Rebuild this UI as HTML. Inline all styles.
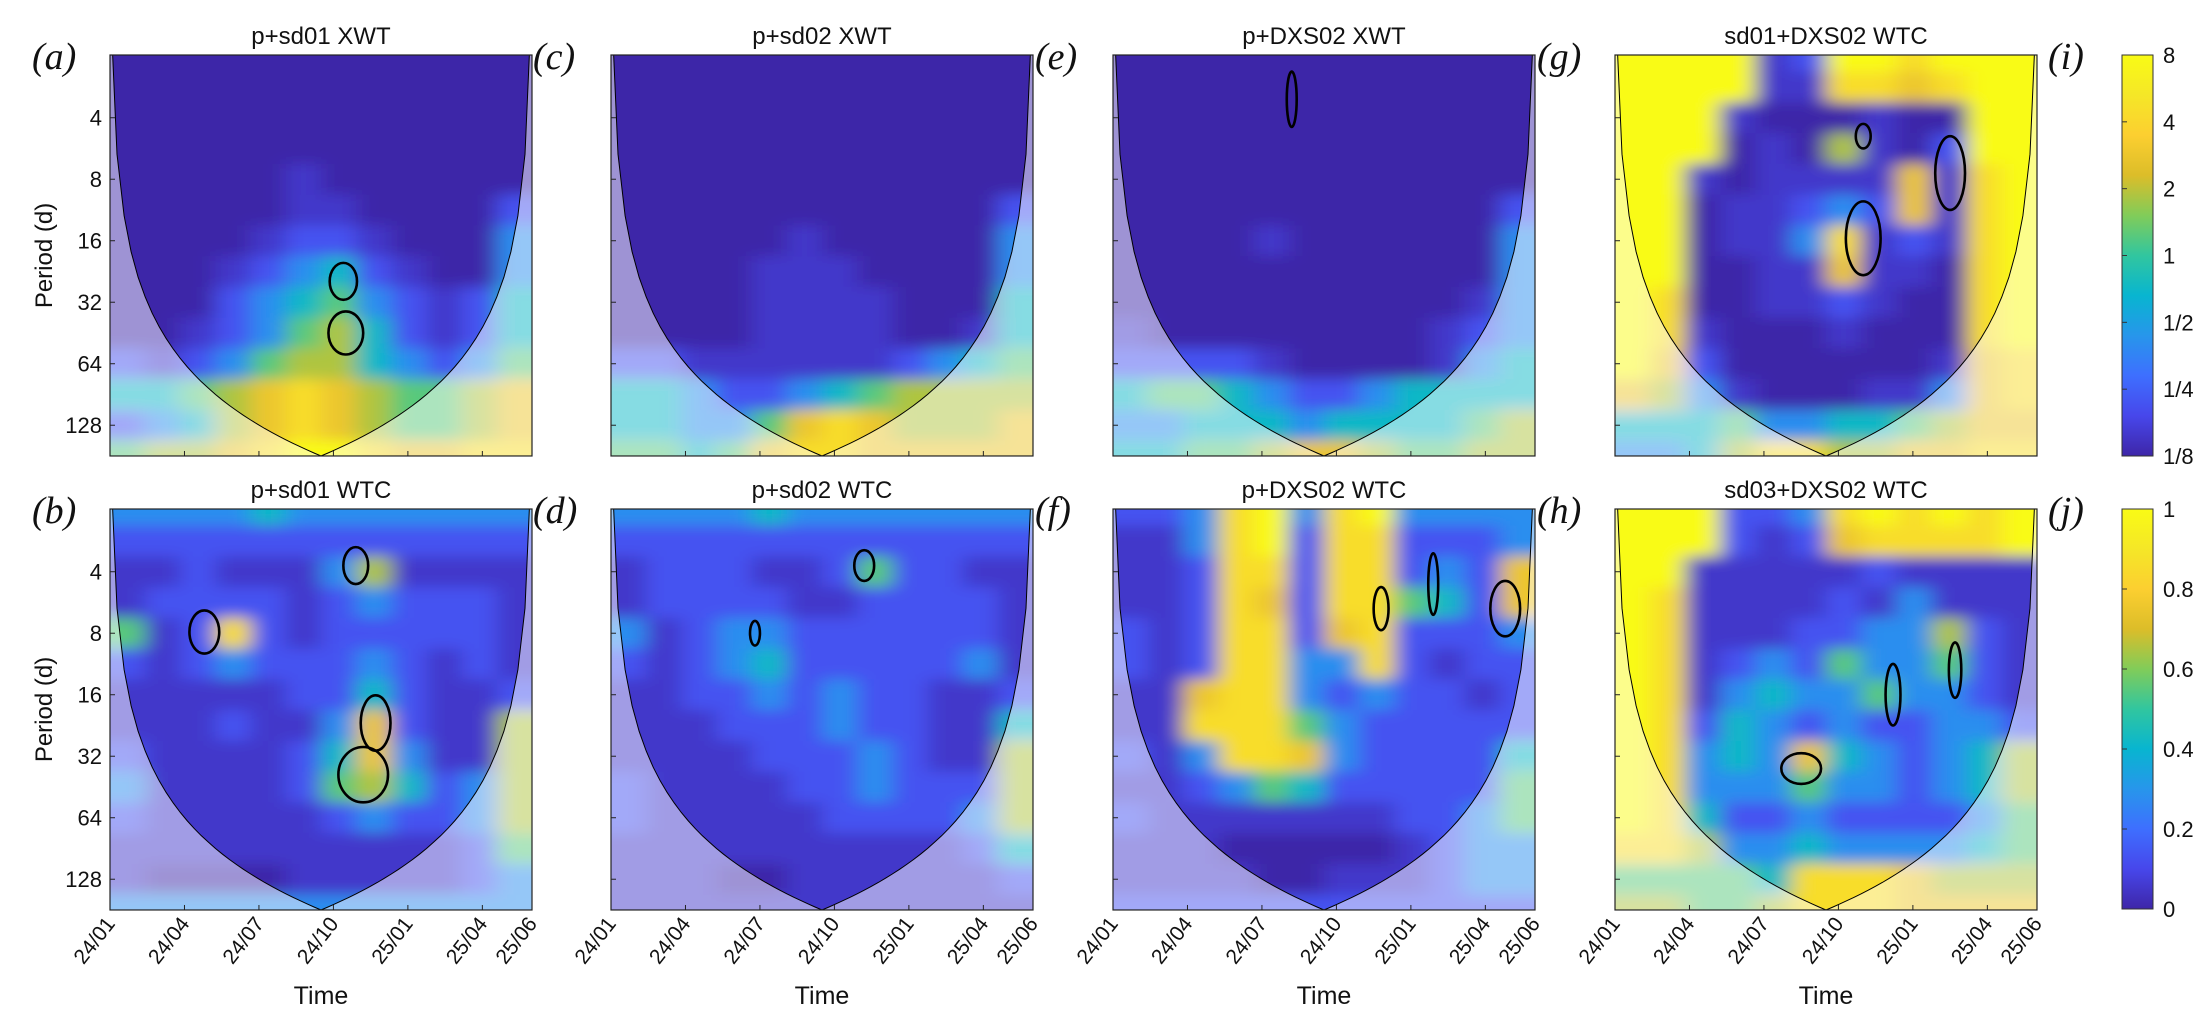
<!DOCTYPE html>
<html><head><meta charset="utf-8"><style>
html,body{margin:0;padding:0;background:#fff;}
svg{display:block;font-family:"Liberation Sans",sans-serif;}
</style></head><body>
<svg id="fig" width="2204" height="1017" viewBox="0 0 2204 1017" xmlns="http://www.w3.org/2000/svg">
<defs>
<filter id="blur" x="-5%" y="-5%" width="110%" height="110%"><feGaussianBlur stdDeviation="11 7"/></filter>
<linearGradient id="cbgrad" x1="0" y1="1" x2="0" y2="0">
<stop offset="0" stop-color="rgb(62,38,168)"/><stop offset="0.1" stop-color="rgb(71,71,235)"/>
<stop offset="0.2" stop-color="rgb(62,111,255)"/><stop offset="0.3" stop-color="rgb(39,150,235)"/>
<stop offset="0.4" stop-color="rgb(8,181,208)"/><stop offset="0.5" stop-color="rgb(49,198,159)"/>
<stop offset="0.6" stop-color="rgb(129,204,89)"/><stop offset="0.7" stop-color="rgb(220,189,41)"/>
<stop offset="0.8" stop-color="rgb(252,207,48)"/><stop offset="0.9" stop-color="rgb(245,231,39)"/>
<stop offset="1" stop-color="rgb(249,251,21)"/>
</linearGradient>
</defs>
</svg>
<script>
// ---- data (grid rows: log2 period 1.0 .. 7.5 step 0.5; columns: 12 time bins 24/01..25/06) ----
const timeTicks = ["24/01","24/04","24/07","24/10","25/01","25/04","25/06"];
const tickMonths = [0,3,6,9,12,15,17];
const periodTicks = [4,8,16,32,64,128];
const cbTopLabels = ["8","4","2","1","1/2","1/4","1/8"];
const cbBottomLabels = ["1","0.8","0.6","0.4","0.2","0"];
const titles = ["p+sd01 XWT","p+sd02 XWT","p+DXS02 XWT","sd01+DXS02 WTC","p+sd01 WTC","p+sd02 WTC","p+DXS02 WTC","sd03+DXS02 WTC"];
const letters = ["(a)","(c)","(e)","(g)","(b)","(d)","(f)","(h)"];
// level (0..9) to colour-scale fraction
const levelScale = [0,0.05,0.13,0.28,0.42,0.55,0.65,0.75,0.86,1.0];

const gridA = [
[0,0,0,0,0,0,0,0,0,0,0,0],[0,0,0,0,0,0,0,0,0,0,0,0],[0,0,0,0,0,0,0,0,0,0,0,0],[0,0,0,0,0,0,0,0,0,0,0,0],
[0,0,0,0,0,1,0,0,0,0,0,0],[0,0,0,0,0,1,1,0,0,0,0,2],[0,0,0,0,1,2,2,1,0,0,0,3],[0,0,0,1,2,3,4,2,1,0,0,3],
[0,0,0,2,3,4,5,3,2,1,2,4],[0,0,1,2,3,5,6,4,2,1,2,4],[2,1,2,3,5,6,6,4,3,2,3,5],[4,4,5,6,7,8,7,6,5,5,6,7],
[2,3,4,6,7,8,7,6,5,5,6,7],[5,6,6,7,8,9,9,8,7,7,8,8]];
const gridC = [
[0,0,0,0,0,0,0,0,0,0,0,0],[0,0,0,0,0,0,0,0,0,0,0,0],[0,0,0,0,0,0,0,0,0,0,0,0],[0,0,0,0,0,0,0,0,0,0,0,0],
[0,0,0,0,0,0,0,0,0,0,0,0],[0,0,0,0,0,0,0,0,0,0,0,2],[0,0,0,0,0,1,0,0,0,0,0,3],[0,0,0,0,1,1,1,0,0,0,0,3],
[0,0,0,0,1,1,1,1,0,0,0,4],[0,0,0,0,1,1,1,1,0,0,1,4],[2,2,1,1,1,1,1,1,2,3,4,5],[4,4,3,2,2,3,4,5,6,6,6,6],
[4,4,3,3,5,7,8,7,6,6,6,7],[5,5,4,5,7,8,8,7,7,7,7,7]];
const gridE = [
[0,0,0,0,0,0,0,0,0,0,0,0],[0,0,0,0,0,0,0,0,0,0,0,0],[0,0,0,0,0,0,0,0,0,0,0,0],[0,0,0,0,0,0,0,0,0,0,0,0],
[0,0,0,0,0,0,0,0,0,0,0,0],[0,0,0,0,0,0,0,0,0,0,0,2],[0,0,0,0,1,0,0,0,0,0,0,3],[0,0,0,0,0,0,0,0,0,0,0,3],
[0,0,0,0,0,0,0,0,0,0,1,3],[1,0,0,0,0,0,0,0,0,1,2,3],[2,2,2,2,1,0,0,0,0,1,3,4],[4,5,5,4,3,2,2,3,4,4,4,4],
[3,3,4,4,4,3,4,4,4,4,5,6],[4,4,5,5,6,7,7,6,5,5,6,6]];
const gridG = [
[9,9,9,9,1,2,9,9,8,9,9,9],[9,9,9,9,1,1,8,8,7,8,9,9],[9,9,9,1,0,0,0,1,0,0,9,9],[9,9,9,0,1,0,6,1,0,2,9,9],
[9,9,1,0,1,1,1,1,7,1,8,9],[9,9,0,1,1,2,3,2,7,1,8,9],[9,9,0,1,1,3,8,1,2,1,8,9],[9,9,0,0,1,1,7,1,1,0,8,9],
[9,8,0,0,1,1,2,1,0,0,8,9],[9,8,1,0,0,0,1,0,0,0,8,9],[9,7,2,0,0,0,0,0,0,1,7,8],[7,6,3,1,0,0,0,1,1,3,7,8],
[4,4,4,5,3,3,4,4,5,6,7,7],[3,3,4,6,8,8,6,6,7,7,8,8]];
const gridB = [
[3,3,3,3,4,3,3,3,3,3,3,3],[2,2,2,2,2,2,2,2,2,2,2,2],[1,1,2,1,1,1,3,6,1,1,1,1],[1,2,2,2,2,1,2,3,2,2,2,1],
[5,1,2,8,2,1,2,2,2,2,2,1],[2,1,2,3,2,2,2,3,2,1,2,1],[1,1,1,1,1,2,2,4,2,1,1,2],[1,1,1,2,1,1,3,7,2,1,1,6],
[2,1,1,1,1,2,4,7,3,1,1,6],[3,1,1,1,1,2,5,6,4,2,3,6],[2,1,1,1,1,1,2,3,2,2,3,6],[1,1,1,1,1,1,1,1,1,1,2,5],
[1,0,0,0,0,1,1,1,1,1,2,3],[3,3,3,3,3,3,3,3,3,3,3,3]];
const gridD = [
[3,3,3,3,4,3,3,3,3,3,3,3],[2,2,2,2,2,2,2,2,2,2,2,2],[1,2,2,2,1,1,2,5,2,2,1,1],[1,2,2,2,2,1,1,2,2,2,2,1],
[3,1,2,3,3,2,2,2,2,2,2,1],[2,1,2,3,4,2,2,2,2,2,3,1],[1,1,2,2,3,2,3,2,2,1,1,2],[1,1,1,2,2,2,3,2,2,1,1,4],
[1,1,1,1,2,2,2,3,2,1,1,6],[2,1,1,1,1,2,2,3,2,2,2,6],[2,1,1,1,1,1,2,2,2,2,3,6],[1,1,1,1,1,1,1,1,1,1,2,4],
[1,1,1,0,0,1,1,1,1,1,1,2],[1,1,1,1,1,1,1,1,1,1,1,1]];
const gridF = [
[2,2,3,8,9,3,8,9,3,3,3,3],[1,1,3,8,9,2,8,8,2,2,2,3],[1,1,2,8,8,2,8,8,2,3,2,7],[1,1,2,8,7,2,8,8,5,4,2,7],
[2,1,2,8,8,2,7,8,2,2,2,3],[2,1,2,8,8,3,3,8,2,1,2,2],[1,1,7,8,8,3,2,3,2,2,1,2],[1,1,8,8,8,5,3,2,2,2,2,2],
[2,1,3,8,8,7,3,2,2,2,2,4],[1,1,2,3,5,4,2,2,2,2,2,5],[2,1,1,1,1,1,1,1,2,2,3,5],[1,1,1,0,0,0,0,0,1,2,3,3],
[1,1,1,1,0,0,1,1,1,2,3,3],[2,2,2,2,2,2,2,2,2,2,2,2]];
const gridH = [
[9,9,9,2,2,3,8,9,8,9,8,9],[9,9,9,2,1,2,7,8,8,8,8,9],[9,9,1,1,1,1,1,2,1,1,1,1],[9,8,1,1,1,1,2,1,3,1,1,1],
[9,8,1,1,1,2,2,3,3,6,2,1],[9,8,1,2,3,2,5,3,3,5,2,1],[9,8,1,3,4,3,3,5,3,3,2,1],[9,8,2,4,3,2,3,2,2,3,3,2],
[9,8,3,4,3,7,4,3,2,3,4,6],[9,8,3,3,3,5,3,3,2,3,4,6],[9,8,4,2,2,3,2,2,2,2,3,5],[8,8,6,3,3,4,3,3,3,3,4,5],
[5,5,5,5,4,8,8,8,7,6,6,6],[6,6,5,5,6,8,8,8,7,7,7,7]];
const grids = [gridA,gridC,gridE,gridG,gridB,gridD,gridF,gridH];

// significance contours: [month, log2 period, radius months, radius log2]
const contoursA = [[9.4,4.66,0.55,0.3],[9.5,5.5,0.7,0.35]];
const contoursC = [];
const contoursE = [[7.2,1.7,0.2,0.45]];
const contoursG = [[10.0,3.96,0.7,0.6],[13.5,2.9,0.6,0.6],[10.0,2.3,0.3,0.2]];
const contoursB = [[3.8,2.98,0.6,0.35],[9.9,1.9,0.5,0.3],[10.7,4.46,0.6,0.45],[10.2,5.3,1.0,0.45]];
const contoursD = [[10.2,1.9,0.4,0.25],[5.8,3.0,0.2,0.2]];
const contoursF = [[15.8,2.6,0.6,0.45],[10.8,2.6,0.3,0.35],[12.9,2.2,0.2,0.5]];
const contoursH = [[7.5,5.2,0.8,0.25],[11.2,4.0,0.3,0.5],[13.7,3.6,0.25,0.45]];
const contours = [contoursA,contoursC,contoursE,contoursG,contoursB,contoursD,contoursF,contoursH];

// ---- layout ----
const NS="http://www.w3.org/2000/svg";
const svg=document.getElementById('fig');
const colX=[110,611,1113,1615], PW=422;
const rowY=[55,509];
const L0=0.98, LSTEP=61.5, LMAX=7.5, MONTHS=17;
const stops=[[62,38,168],[71,71,235],[62,111,255],[39,150,235],[8,181,208],[49,198,159],[129,204,89],[220,189,41],[252,207,48],[245,231,39],[249,251,21]];
function parula(t){t=Math.max(0,Math.min(1,t));const p=t*10,i=Math.min(9,Math.floor(p)),f=p-i;const a=stops[i],b=stops[i+1];
return 'rgb('+[0,1,2].map(k=>Math.round(a[k]+(b[k]-a[k])*f)).join(',')+')';}
function mk(tag,attrs,parent){const e=document.createElementNS(NS,tag);for(const k in attrs)e.setAttribute(k,attrs[k]);(parent||svg).appendChild(e);return e;}

function drawPanel(idx){
  const px=colX[idx%4], py=rowY[Math.floor(idx/4)], ph=(LMAX-L0)*LSTEP;
  const xs=m=>px+m/MONTHS*PW;
  const ys=l=>py+(l-L0)*LSTEP;
  const g=mk('g',{});
  
  
  const cid='clip'+idx;
  const cp=mk('clipPath',{id:cid},g);mk('rect',{x:px,y:py,width:PW,height:ph},cp);
  const inner=mk('g',{'clip-path':'url(#'+cid+')'},g);
  const heat=mk('g',{filter:'url(#blur)'},inner);
  
  
  const grid=grids[idx], nr=grid.length, nc=grid[0].length, cw=PW/nc;
  for(let r=0;r<nr;r++)for(let c=0;c<nc;c++){
    const l=1+0.5*r;let x0=px+c*cw,x1=x0+cw,y0=ys(l-0.25),y1=ys(l+0.25);
    if(c===0)x0-=40; if(c===nc-1)x1+=40; if(r===0)y0-=40; if(r===nr-1)y1+=40;
    const cell=mk('rect',{x:x0,y:y0,width:x1-x0+0.6,height:y1-y0+0.6,fill:parula(levelScale[grid[r][c]])},heat);
    
    
  }
  let pts=[];
  for(let i=0;i<=60;i++){const m=i/60*MONTHS;const d=Math.min(m,MONTHS-m)/(MONTHS/2);
    const P=Math.max(1.0,181*d);const l=Math.log2(P);pts.push([xs(m),Math.min(ys(LMAX)+2,ys(l))]);}
  const conePath='M'+pts.map(p=>p[0].toFixed(1)+','+p[1].toFixed(1)).join(' L');
  const over=mk('path',{d:'M'+(px-2)+','+(py-2)+' L'+(px-2)+','+(py+ph+2)+' L'+(px+PW+2)+','+(py+ph+2)+' L'+(px+PW+2)+','+(py-2)+' Z '+conePath+' L'+(px+PW+2)+','+(py-2)+' Z',
    fill:'#ffffff','fill-opacity':'0.5','fill-rule':'evenodd'},inner);
  
  
  const coneLine=mk('path',{d:conePath,fill:'none',stroke:'#000','stroke-width':'1'},inner);
  
  
  for(const c of contours[idx]){
    const e=mk('ellipse',{cx:xs(c[0]),cy:ys(c[1]),rx:c[2]/MONTHS*PW,ry:c[3]*LSTEP,fill:'none',stroke:'#000','stroke-width':'2.6'},inner);
    
    
  }
  const box=mk('rect',{x:px,y:py,width:PW,height:ph,fill:'none',stroke:'#222','stroke-width':'1.2'},g);
  
  
  for(const m of tickMonths){const t=mk('line',{x1:xs(m),x2:xs(m),y1:py+ph,y2:py+ph-5,stroke:'#222'},g);
    }
  for(const p of periodTicks){const y=ys(Math.log2(p));const t=mk('line',{x1:px,x2:px+5,y1:y,y2:y,stroke:'#222'},g);
    }
  const tt=mk('text',{x:px+PW/2,y:py-11,'text-anchor':'middle','font-size':'24',fill:'#111'},g);
  tt.textContent=titles[idx];
  
  
  const lt=mk('text',{x:colX[idx%4]-78,y:py+14,'font-size':'38','font-style':'italic','font-family':'"Liberation Serif",serif',fill:'#111'},g);
  lt.textContent=letters[idx];
  
  
  if(idx%4===0){
    for(const p of periodTicks){const t=mk('text',{x:px-8,y:ys(Math.log2(p))+8,'text-anchor':'end','font-size':'22',fill:'#111'},g);
      t.textContent=p;}
    const yl=mk('text',{x:0,y:0,transform:'translate(52,'+(py+ph/2)+') rotate(-90)','text-anchor':'middle','font-size':'24',fill:'#111'},g);
    yl.textContent='Period (d)';
  }
  if(idx>=4){
    tickMonths.forEach((m,i)=>{const t=mk('text',{x:0,y:0,transform:'translate('+(xs(m)+6)+','+(py+ph+14)+') rotate(-52)','text-anchor':'end','font-size':'21',fill:'#111'},g);
      t.textContent=timeTicks[i];});
    const xt=mk('text',{x:px+PW/2,y:1004,'text-anchor':'middle','font-size':'25',fill:'#111'},g);
    xt.textContent='Time';
  }
}
for(let i=0;i<8;i++)drawPanel(i);

[["(i)",55],["(j)",509]].forEach(([s,y])=>{const t=mk('text',{x:2048,y:y+14,'font-size':'38','font-style':'italic','font-family':'"Liberation Serif",serif',fill:'#111'});
  t.textContent=s;});

function colorbar(y0,h,labels,name){
  const g=mk('g',{});
  
  
  mk('rect',{x:2122,y:y0,width:31,height:h,fill:'url(#cbgrad)',stroke:'#333','stroke-width':'1'},g);
  labels.forEach((s,i)=>{const y=y0+i*h/(labels.length-1);
    mk('line',{x1:2122,x2:2127,y1:y,y2:y,stroke:'#333'},g);
    const t=mk('text',{x:2163,y:y+8,'font-size':'22',fill:'#111'},g);t.textContent=s;
    });
}
colorbar(55,401,cbTopLabels,'colorbar-power');
colorbar(509,400,cbBottomLabels,'colorbar-coherence');
</script>
</body></html>
